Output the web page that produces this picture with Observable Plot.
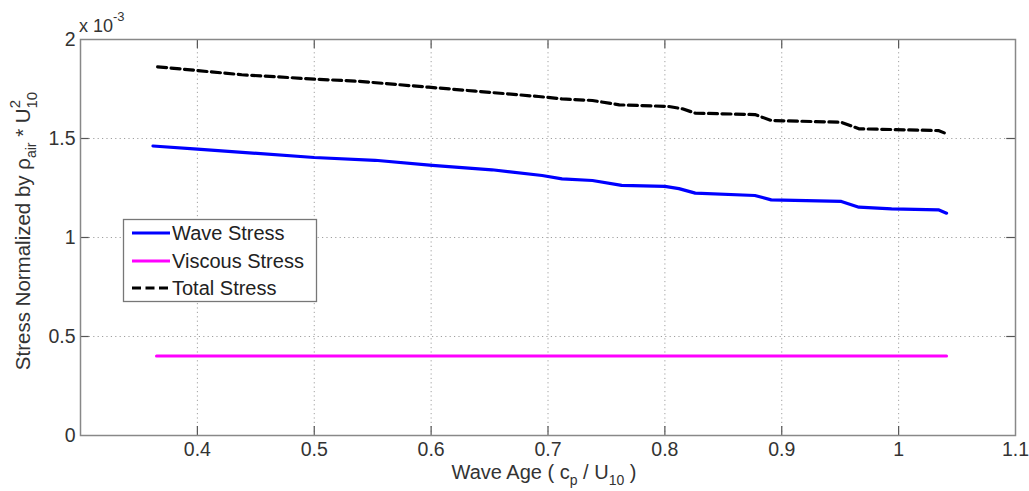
<!DOCTYPE html>
<html>
<head>
<meta charset="utf-8">
<script src="https://cdn.jsdelivr.net/npm/d3@7"></script>
<script src="https://cdn.jsdelivr.net/npm/@observablehq/plot@0.6"></script>
<style>
  html, body { margin: 0; padding: 0; background: #fff; }
  #chart { width: 1029px; height: 491px; }
  svg text { font-family: "Liberation Sans", Arial, Helvetica, sans-serif; }
</style>
</head>
<body>
<div id="chart"></div>
<script>
// Wave age (c_p / U10)
const waveX = [0.362, 0.40, 0.50, 0.552, 0.601, 0.652, 0.695, 0.712, 0.738, 0.763, 0.800, 0.812, 0.826, 0.877, 0.891, 0.951, 0.966, 0.994, 1.034, 1.041];
// Wave stress (x 10^-3)
const waveY = [1.462, 1.446, 1.404, 1.390, 1.364, 1.342, 1.313, 1.296, 1.288, 1.263, 1.258, 1.247, 1.224, 1.212, 1.190, 1.182, 1.153, 1.145, 1.140, 1.123];

const totalX = [0.366, 0.40, 0.438, 0.50, 0.538, 0.598, 0.638, 0.692, 0.712, 0.738, 0.761, 0.803, 0.815, 0.826, 0.877, 0.891, 0.951, 0.966, 1.034, 1.041];
const totalY = [1.862, 1.843, 1.822, 1.800, 1.789, 1.759, 1.739, 1.712, 1.700, 1.692, 1.670, 1.662, 1.650, 1.628, 1.621, 1.591, 1.582, 1.549, 1.540, 1.524];

const viscousX = [0.365, 1.041];
const viscousY = [0.402, 0.402];

const xTicks = [0.4, 0.5, 0.6, 0.7, 0.8, 0.9, 1.0, 1.1];
const yTicks = [0, 0.5, 1, 1.5, 2];
const xGrid = [0.4, 0.5, 0.6, 0.7, 0.8, 0.9, 1.0];
const yGrid = [0.5, 1, 1.5];

const seriesNames = ["Wave Stress", "Viscous Stress", "Total Stress"];
const seriesColors = ["#0000ff", "#ff00ff", "#000000"];

const wave = waveX.map((x, i) => ({x, y: waveY[i]}));
const total = totalX.map((x, i) => ({x, y: totalY[i]}));
const viscous = viscousX.map((x, i) => ({x, y: viscousY[i]}));

const xDom = [0.3, 1.1], yDom = [0, 2];
const FONT = "Liberation Sans, Arial, Helvetica, sans-serif";

const plot = Plot.plot({
  width: 1029,
  height: 491,
  marginLeft: 80,
  marginRight: 14,
  marginTop: 39,
  marginBottom: 56,
  style: {fontFamily: FONT, fontSize: "19px", color: "#333", background: "#fff"},
  x: {domain: xDom},
  y: {domain: yDom},
  marks: [
    Plot.gridX(xGrid, {stroke: "#a0a0a0", strokeOpacity: 1, strokeDasharray: "1.2,3.2", strokeWidth: 1}),
    Plot.gridY(yGrid, {stroke: "#a0a0a0", strokeOpacity: 1, strokeDasharray: "1.2,3.2", strokeWidth: 1}),
    // inward ticks
    Plot.ruleX(xTicks.slice(0, -1), {x: d => d, y1: 0, y2: 0.045, stroke: "#555", strokeWidth: 1.2}),
    Plot.ruleX(xTicks.slice(0, -1), {x: d => d, y1: 2, y2: 1.955, stroke: "#555", strokeWidth: 1.2}),
    Plot.ruleY(yTicks.slice(1, -1), {y: d => d, x1: 0.3, x2: 0.3075, stroke: "#555", strokeWidth: 1.2}),
    Plot.ruleY(yTicks.slice(1, -1), {y: d => d, x1: 1.1, x2: 1.0925, stroke: "#555", strokeWidth: 1.2}),
    Plot.frame({stroke: "#888", strokeWidth: 1.5}),
    Plot.axisX(xTicks, {tickSize: 0, tickPadding: 7, fill: "#333", label: null, tickFormat: d => d3.format("")(d)}),
    Plot.axisY(yTicks, {tickSize: 0, tickPadding: 5, fill: "#333", label: null, tickFormat: d => d3.format("")(d)}),
    Plot.line(viscous, {x: "x", y: "y", stroke: seriesColors[1], strokeWidth: 3}),
    Plot.line(wave, {x: "x", y: "y", stroke: seriesColors[0], strokeWidth: 3.2, strokeLinejoin: "round"}),
    Plot.line(total, {x: "x", y: "y", stroke: seriesColors[2], strokeWidth: 3.2, strokeDasharray: "9,4.5"})
  ]
});

document.getElementById("chart").appendChild(plot);

const svg = d3.select(plot);
// enforce tick label size
svg.selectAll("g[aria-label$='tick label'] text").style("font-size", "19.5px");

function txt(sel, size) {
  return sel.append("text").style("font-size", size + "px").style("font-family", FONT).attr("fill", "#333");
}
function ts(sel, size) {
  return sel.append("tspan").style("font-size", size + "px");
}

// exponent label
const ex = txt(svg, 18).attr("x", 79).attr("y", 32).attr("text-anchor", "start");
ts(ex, 18).text("x 10");
ts(ex, 13).attr("dy", -11).text("-3");

// x axis label
const xl = txt(svg, 20).attr("x", 544).attr("y", 479).attr("text-anchor", "middle");
ts(xl, 20).text("Wave Age ( c");
ts(xl, 14).attr("dy", 6).text("p");
ts(xl, 20).attr("dy", -6).text(" / U");
ts(xl, 14).attr("dy", 6).text("10");
ts(xl, 20).attr("dy", -6).text(" )");

// y axis label
const yl = txt(svg, 20.5).attr("transform", "translate(30,231) rotate(-90)").attr("text-anchor", "middle");
ts(yl, 20.5).text("Stress Normalized by ρ");
ts(yl, 14).attr("dy", 6).text("air");
ts(yl, 20.5).attr("dy", -6).text(" * U");
ts(yl, 15).attr("dy", -10).text("2");
ts(yl, 15).attr("dx", -8.5).attr("dy", 17).text("10");

// legend
const lg = svg.append("g");
lg.append("rect").attr("x", 123.5).attr("y", 219.5).attr("width", 193).attr("height", 82)
  .attr("fill", "#fff").attr("stroke", "#777").attr("stroke-width", 1.3);
const rowsY = [233, 261, 288];
seriesNames.forEach((name, i) => {
  lg.append("line").attr("x1", 132).attr("x2", 170).attr("y1", rowsY[i]).attr("y2", rowsY[i])
    .attr("stroke", seriesColors[i]).attr("stroke-width", 3)
    .attr("stroke-dasharray", i === 2 ? "9,4.5" : null);
  txt(lg, 20).attr("x", 172).attr("y", rowsY[i]).attr("dy", "0.36em")
    .attr("text-anchor", "start").attr("fill", "#222").text(name);
});
</script>
</body>
</html>
